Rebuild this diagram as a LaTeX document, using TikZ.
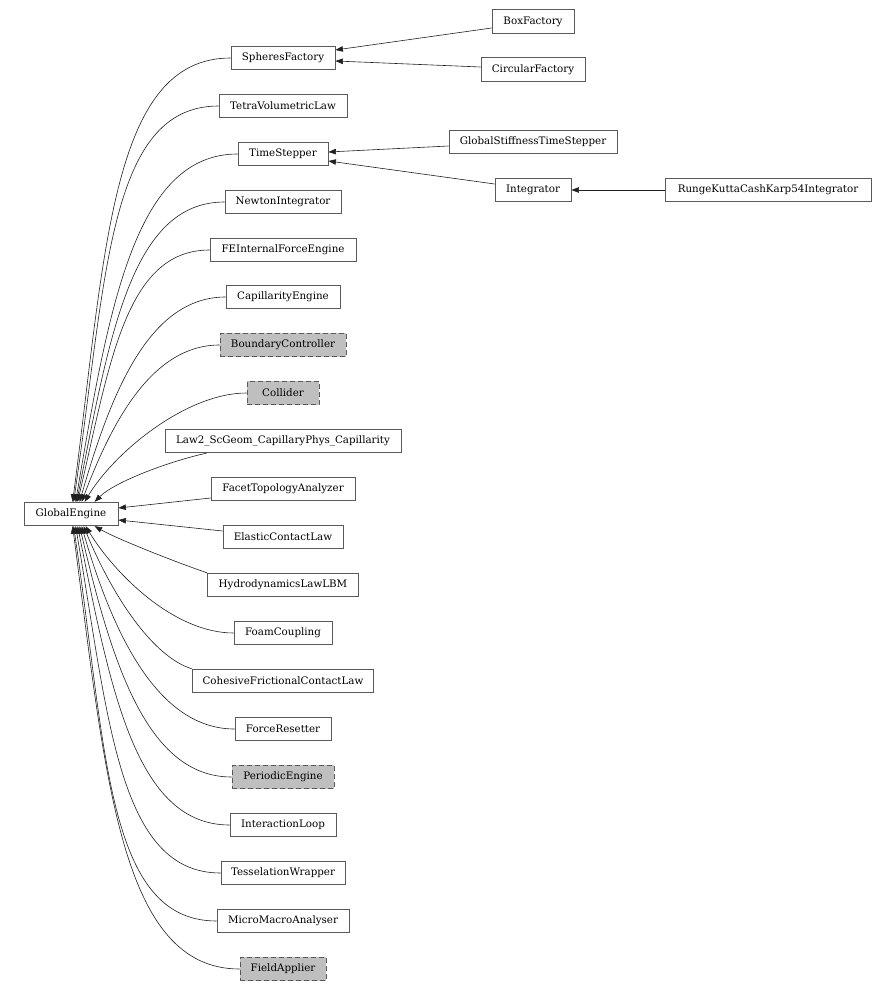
\documentclass[tikz,border=0pt]{standalone}
\usepackage{fontspec}
\setmainfont{DejaVu Serif}
\usetikzlibrary{arrows.meta,calc}
\definecolor{boxline}{HTML}{5A5A5A}
\definecolor{edgeline}{HTML}{202020}
\definecolor{shade}{HTML}{BFBFBF}
\begin{document}
\begin{tikzpicture}[x=1pt,y=-1pt,
  cls/.style={draw=boxline, line width=0.8pt, fill=white, minimum height=23.5pt,
    inner sep=0pt, font=\fontsize{10.3}{12}\selectfont, text=black},
  undoc/.style={cls, fill=shade, dash pattern=on 5pt off 3pt},
  edge/.style={draw=edgeline, line width=0.6pt, -{Triangle[length=7.5pt,width=5.5pt]}}]
\useasboundingbox (0,0) rectangle (895,992);
% nodes
\node[cls, minimum width=94pt] (ge) at (71,514) {GlobalEngine};
\node[cls, minimum width=104pt] (sph) at (283,58) {SpheresFactory};
\node[cls, minimum width=128pt] (tet) at (283,106) {TetraVolumetricLaw};
\node[cls, minimum width=90pt] (ts) at (283,154) {TimeStepper};
\node[cls, minimum width=116pt] (new) at (283,202) {NewtonIntegrator};
\node[cls, minimum width=146pt] (fe) at (283,250) {FEInternalForceEngine};
\node[cls, minimum width=114pt] (cap) at (283,297) {CapillarityEngine};
\node[undoc, minimum width=126pt] (bc) at (283,345) {BoundaryController};
\node[undoc, minimum width=72pt] (col) at (283,393) {Collider};
\node[cls, minimum width=236pt] (law) at (283,441) {Law2\_ScGeom\_CapillaryPhys\_Capillarity};
\node[cls, minimum width=144pt] (fac) at (283,489) {FacetTopologyAnalyzer};
\node[cls, minimum width=120pt] (ela) at (283,537) {ElasticContactLaw};
\node[cls, minimum width=151pt] (hyd) at (283,585) {HydrodynamicsLawLBM};
\node[cls, minimum width=98pt] (foam) at (283,633) {FoamCoupling};
\node[cls, minimum width=181pt] (coh) at (283,681) {CohesiveFrictionalContactLaw};
\node[cls, minimum width=96pt] (fr) at (283,729) {ForceResetter};
\node[undoc, minimum width=102pt] (per) at (283,777) {PeriodicEngine};
\node[cls, minimum width=106pt] (il) at (283,825) {InteractionLoop};
\node[cls, minimum width=124pt] (tw) at (283,873) {TesselationWrapper};
\node[cls, minimum width=132pt] (mm) at (283,921) {MicroMacroAnalyser};
\node[undoc, minimum width=86pt] (fa) at (283,969) {FieldApplier};
\node[cls, minimum width=82pt] (box) at (533,21.5) {BoxFactory};
\node[cls, minimum width=104pt] (circ) at (533,69.5) {CircularFactory};
\node[cls, minimum width=168pt] (gst) at (533,142) {GlobalStiffnessTimeStepper};
\node[cls, minimum width=76pt] (int) at (533,190) {Integrator};
\node[cls, minimum width=206pt] (rk) at (768,190) {RungeKuttaCashKarp54Integrator};
% tip coordinates on GlobalEngine
\coordinate (u1) at ($(ge.north west)+(49,0)$);
\coordinate (u2) at ($(ge.north west)+(50,0)$);
\coordinate (u3) at ($(ge.north west)+(52,0)$);
\coordinate (u4) at ($(ge.north west)+(53,0)$);
\coordinate (u5) at ($(ge.north west)+(54,0)$);
\coordinate (u6) at ($(ge.north west)+(56,0)$);
\coordinate (u7) at ($(ge.north west)+(58,0)$);
\coordinate (u8) at ($(ge.north west)+(61,0)$);
\coordinate (u9) at ($(ge.north west)+(71,0)$);
\coordinate (d1) at ($(ge.south west)+(49,0)$);
\coordinate (d2) at ($(ge.south west)+(50,0)$);
\coordinate (d3) at ($(ge.south west)+(52,0)$);
\coordinate (d4) at ($(ge.south west)+(54,0)$);
\coordinate (d5) at ($(ge.south west)+(56,0)$);
\coordinate (d6) at ($(ge.south west)+(58,0)$);
\coordinate (d7) at ($(ge.south west)+(60,0)$);
\coordinate (d8) at ($(ge.south west)+(62,0)$);
\coordinate (d9) at ($(ge.south west)+(71,0)$);
% upper edges
\draw[edge] (sph.west) .. controls +(-120,0) and ($(u1)+(33,-251)$) .. (u1);
\draw[edge] (tet.west) .. controls +(-111,0) and ($(u2)+(33,-223)$) .. (u2);
\draw[edge] (ts.west) .. controls +(-103,0) and ($(u3)+(33,-194)$) .. (u3);
\draw[edge] (new.west) .. controls +(-94,0) and ($(u4)+(33,-165)$) .. (u4);
\draw[edge] (fe.west) .. controls +(-85,0) and ($(u5)+(32,-136)$) .. (u5);
\draw[edge] (cap.west) .. controls +(-77,0) and ($(u6)+(31,-108)$) .. (u6);
\draw[edge] (bc.west) .. controls +(-68,0) and ($(u7)+(30,-79)$) .. (u7);
\draw[edge] (col.west) .. controls +(-60,0) and ($(u8)+(30,-50)$) .. (u8);
\draw[edge] ($(law.south west)+(42,0)$) .. controls +(-37,8) and ($(u9)+(20,-20)$) .. (u9);
% side edges
\draw[edge] ($(fac.west)+(0,9)$) -- ($(ge.east)+(0,-6)$);
\draw[edge] ($(ela.west)+(0,-6)$) -- ($(ge.east)+(0,6)$);
% lower edges
\draw[edge] (hyd.north west) .. controls +(-32,-11) and ($(d9)+(23,13)$) .. (d9);
\draw[edge] (foam.west) .. controls +(-59,0) and ($(d8)+(30,49)$) .. (d8);
\draw[edge] (coh.north west) .. controls +(-40,-12) and ($(d7)+(28,68)$) .. (d7);
\draw[edge] (fr.west) .. controls +(-77,0) and ($(d6)+(31,107)$) .. (d6);
\draw[edge] (per.west) .. controls +(-85,0) and ($(d5)+(32,136)$) .. (d5);
\draw[edge] (il.west) .. controls +(-94,0) and ($(d4)+(33,164)$) .. (d4);
\draw[edge] (tw.west) .. controls +(-102,0) and ($(d3)+(33,193)$) .. (d3);
\draw[edge] (mm.west) .. controls +(-111,0) and ($(d2)+(33,222)$) .. (d2);
\draw[edge] (fa.west) .. controls +(-120,0) and ($(d1)+(33,251)$) .. (d1);
% right column edges
\draw[edge] ($(box.west)+(0,6.5)$) -- ($(sph.east)+(0,-8)$);
\draw[edge] ($(circ.west)+(0,-2.5)$) -- ($(sph.east)+(0,3)$);
\draw[edge] ($(gst.west)+(0,4)$) -- ($(ts.east)+(0,-2)$);
\draw[edge] ($(int.west)+(0,-6)$) -- ($(ts.east)+(0,7)$);
\draw[edge] (rk.west) -- (int.east);
\end{tikzpicture}
\end{document}
